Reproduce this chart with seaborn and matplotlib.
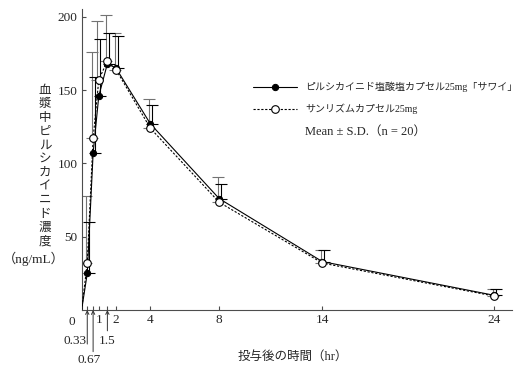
import matplotlib
matplotlib.use('Agg')
import matplotlib.pyplot as plt
import matplotlib.transforms as mtransforms
from matplotlib.lines import Line2D
import seaborn as sns
import pandas as pd

# values
hours = [0, 0.33, 0.67, 1, 1.5, 2, 4, 8, 14, 24]
sawai_mean = [0, 25, 107, 146, 168, 165, 127, 76, 33, 10]
sawai_sd = [0, 35, 52, 39, 21, 22, 13, 10, 8, 4]
sanrhythm_mean = [0, 32, 117, 157, 170, 164, 124, 73.5, 32, 9.5]
sanrhythm_sd = [0, 46, 59, 40, 31, 25, 20, 17.5, 9, 4.5]

sawai_label = 'ピルシカイニド塩酸塩カプセル25mg「サワイ」'
sanrhythm_label = 'サンリズムカプセル25mg'
stats_label = 'Mean ± S.D.（n = 20）'

tick_hours = [0.33, 0.67, 1, 1.5, 2, 4, 8, 14, 24]
tick_labels = ['', '', '1', '', '2', '4', '8', '14', '24']
arrow_ticks = [0.33, 0.67, 1.5]
arrow_labels = ['0.33', '0.67', '1.5']
y_ticks = [50, 100, 150, 200]

sns.set_style('ticks')
plt.rcParams['font.family'] = ['Liberation Serif', 'Noto Sans CJK JP']

df = pd.DataFrame({'hr': hours, 'sawai': sawai_mean, 'sanrhythm': sanrhythm_mean})

fig = plt.figure(figsize=(5.24, 3.68), dpi=100)
ax = fig.add_axes([0.1557, 0.1576, 0.8206, 0.8166])

marks = list(range(1, len(hours)))
sns.lineplot(data=df, x='hr', y='sawai', ax=ax, color='black', lw=0.8,
             marker='o', markersize=4.5, markevery=marks,
             markerfacecolor='black', markeredgecolor='black',
             label=sawai_label, zorder=3)
sns.lineplot(data=df, x='hr', y='sanrhythm', ax=ax, color='black', lw=0.8,
             linestyle=(0, (2, 1.5)), marker='o', markersize=5.5,
             markevery=marks, markerfacecolor='white',
             markeredgecolor='black', markeredgewidth=0.8,
             label=sanrhythm_label, zorder=4)

# upper-only error bars, nudged apart a little like the original
n = len(hours) - 1
left = ax.transData + mtransforms.ScaledTranslation(-1 / 72, 0, fig.dpi_scale_trans)
right = ax.transData + mtransforms.ScaledTranslation(1.2 / 72, 0, fig.dpi_scale_trans)
ax.errorbar(hours[1:], sanrhythm_mean[1:], yerr=[[0] * n, sanrhythm_sd[1:]],
            fmt='none', ecolor='0.45', elinewidth=0.8, capsize=4,
            capthick=0.8, transform=left, zorder=2)
ax.errorbar(hours[1:], sawai_mean[1:], yerr=[[0] * n, sawai_sd[1:]],
            fmt='none', ecolor='black', elinewidth=0.8, capsize=4,
            capthick=0.8, transform=right, zorder=2)

ax.set_xlim(0, 25)
ax.set_ylim(0, 205)
ax.set_xlabel('')
ax.set_ylabel('')
sns.despine(ax=ax)
for side in ['left', 'bottom']:
    ax.spines[side].set_color('0.3')
    ax.spines[side].set_linewidth(0.8)

ax.set_xticks(tick_hours)
ax.set_xticklabels(tick_labels)
ax.set_yticks(y_ticks)
ax.tick_params(direction='in', length=3, width=0.8, color='0.3',
               labelsize=9.5, pad=3)

ax.annotate('0', xy=(0, 0), xytext=(-7, -8.4), textcoords='offset points',
            ha='center', va='center', fontsize=9.5)
arrow_len = [24.5, 30, 15]
label_off = [(-8.9, -22.3), (-3, -36), (0, -22.3)]
for t, lab, ln, off in zip(arrow_ticks, arrow_labels, arrow_len, label_off):
    ax.annotate('', xy=(t, 0), xytext=(0, -ln), textcoords='offset points',
                arrowprops=dict(arrowstyle='->', lw=0.7, color='0.2',
                                shrinkA=0, shrinkB=0, mutation_scale=6))
    ax.annotate(lab, xy=(t, 0), xytext=off, textcoords='offset points',
                ha='center', va='center', fontsize=9.5)

handles, labels = ax.get_legend_handles_labels()
handles.append(Line2D([], [], linestyle='none'))
labels.append(stats_label)
leg = ax.legend(handles, labels, loc='upper left', bbox_to_anchor=(0.399, 0.76),
                frameon=False, fontsize=7.2, handlelength=4.4,
                handletextpad=0.8, labelspacing=1.15, borderpad=0,
                borderaxespad=0)
leg.get_texts()[2].set_fontsize(9)

fig.text(45 / 524, 1 - 166 / 368, '\n'.join('血漿中ピルシカイニド濃度'),
         ha='center', va='center', fontsize=9, linespacing=1.19)
fig.text(34 / 524, 1 - 259 / 368, '（ng/mL）', ha='center', va='center',
         fontsize=9.5)
fig.text(293 / 524, 1 - 357 / 368, '投与後の時間（hr）', ha='center',
         va='center', fontsize=9)

fig.savefig('out.png', dpi=100)
